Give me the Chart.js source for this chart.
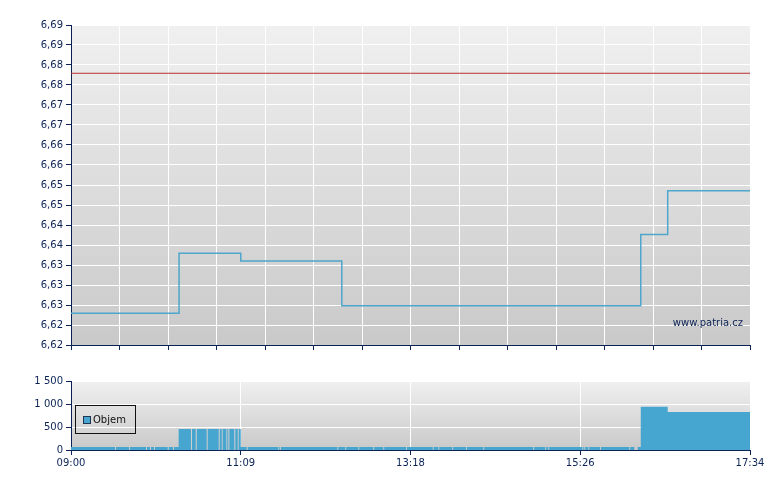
<!DOCTYPE html>
<html>
<head>
<meta charset="utf-8">
<script src="https://cdn.jsdelivr.net/npm/chart.js@4/dist/chart.umd.min.js"></script>
<style>
  html, body { margin: 0; padding: 0; background: #fff; }
  #wrap { position: relative; width: 780px; height: 490px; overflow: hidden; }
  canvas { position: absolute; left: 0; }
  #priceCanvas { top: 0; }
  #volCanvas { top: 370px; }
  #legend { position: absolute; left: 75px; top: 405px; width: 61px; height: 29px; box-sizing: border-box;
    border: 1px solid #111; font: 10px "DejaVu Sans", sans-serif; color: #111; }
  #legend .sw { position: absolute; left: 7px; top: 10px; width: 8px; height: 8px; box-sizing: border-box;
    background: #46a6cf; border: 1px solid #1d3550; }
  #legend .lb { position: absolute; left: 17px; top: 8px; line-height: 12px; }
  #mark { position: absolute; right: 37px; top: 317px; font: 10px "DejaVu Sans", sans-serif; line-height: 12px; color: #0b2354; }
</style>
</head>
<body>
<div id="wrap">
  <canvas id="priceCanvas" width="780" height="370"></canvas>
  <canvas id="volCanvas" width="780" height="120"></canvas>
  <div id="legend"><span class="sw"></span><span class="lb">Objem</span></div>
  <div id="mark">www.patria.cz</div>
</div>
<script>
// ---- data (time = minutes after 09:00) ----
const priceTimes  = [0, 81.8, 128.5, 205.0, 431.3, 451.7, 514];
const priceValues = [6.6235, 6.6373, 6.6355, 6.6252, 6.6416, 6.6517, 6.6517];
const refValue = 6.6787;

const volTimes = [0, 33.3, 34.1, 43.9, 44.7, 56.8, 57.5, 59.8, 60.6, 62.8, 63.6, 73.2, 74.0, 77.2, 78.0,
  81.5, 90.8, 91.6, 94.4, 95.2, 102.7, 103.5, 111.8, 112.6, 114.1, 114.8, 117.6, 118.3, 119.1, 119.9, 123.6, 124.4, 126.2, 126.9,
  128.5, 133.0, 133.8, 156.9, 157.6, 158.2, 158.9, 201.6, 202.3, 207.6, 208.3, 217.5, 218.2, 228.8, 229.5, 236.4, 237.1,
  253.6, 254.3, 273.8, 274.5, 278.1, 278.8, 288.6, 289.3, 299.0, 299.7, 312.1, 312.8, 349.9, 350.6, 359.0, 359.7,
  361.3, 362.0, 387.1, 387.8, 388.6, 389.3, 391.6, 392.3, 400.5, 401.2, 422.6, 423.3, 426.4, 429.0,
  431.3, 451.7, 514];
const volValues = [65, 0, 65, 0, 65, 0, 65, 0, 65, 0, 65, 0, 65, 0, 65,
  456, 0, 456, 0, 456, 0, 456, 0, 456, 0, 456, 0, 456, 0, 456, 0, 456, 0, 456,
  65, 0, 65, 0, 65, 0, 65, 0, 65, 0, 65, 0, 65, 0, 65, 0, 65,
  0, 65, 0, 65, 0, 65, 0, 65, 0, 65, 0, 65, 0, 65, 0, 65,
  0, 65, 0, 65, 0, 65, 0, 65, 0, 65, 0, 65, 0, 65,
  941, 826, 826];

const yTickLabels = ['6,62','6,62','6,63','6,63','6,63','6,64','6,64','6,65','6,65','6,66','6,66','6,67','6,67','6,68','6,68','6,69','6,69'];
const xTickLabels = ['09:00', '11:09', '13:18', '15:26', '17:34'];
const volTickLabels = ['0', '500', '1 000', '1 500'];

// ---- styling ----
const NAVY = '#0b2354';
const FONT = { family: 'DejaVu Sans', size: 10 };
const LINE = '#4ea6cc';
const BAR = '#46a6cf';

const gradientBg = {
  id: 'gradientBg',
  beforeDraw(chart) {
    const { ctx, chartArea: a } = chart;
    const g = ctx.createLinearGradient(0, a.top, 0, a.bottom);
    g.addColorStop(0, '#f0f0f0');
    g.addColorStop(1, '#c9c9c9');
    ctx.save();
    ctx.fillStyle = g;
    ctx.fillRect(a.left, a.top, a.right - a.left, a.bottom - a.top);
    ctx.restore();
  }
};

const pts = (xs, ys) => xs.map((x, i) => ({ x, y: ys[i] }));

new Chart(document.getElementById('priceCanvas'), {
  type: 'line',
  data: {
    datasets: [
      { data: [{ x: 0, y: refValue }, { x: 514, y: refValue }], borderColor: '#b83030', borderWidth: 1, pointRadius: 0, fill: false },
      { data: pts(priceTimes, priceValues), borderColor: LINE, borderWidth: 1.5, stepped: 'before', pointRadius: 0, fill: false }
    ]
  },
  options: {
    responsive: false, animation: false, devicePixelRatio: 1,
    layout: { padding: { top: 25, right: 30, bottom: 5, left: 0 } },
    plugins: { legend: { display: false }, tooltip: { enabled: false } },
    scales: {
      x: {
        type: 'linear', min: 0, max: 514,
        border: { color: NAVY, width: 1 },
        grid: { color: '#ffffff', lineWidth: 1, tickColor: NAVY, tickLength: 5 },
        ticks: { count: 15, autoSkip: false, maxRotation: 0, callback: () => '', font: FONT },
        afterFit(s) { s.height = 20; }
      },
      y: {
        type: 'linear', min: 6.6162, max: 6.6898,
        border: { color: NAVY, width: 1 },
        grid: { color: '#ffffff', lineWidth: 1, tickColor: NAVY, tickLength: 5 },
        ticks: { count: 17, autoSkip: false, padding: 3, color: NAVY, font: FONT, callback: (v, i) => yTickLabels[i] },
        afterFit(s) { s.width = 71; }
      }
    }
  },
  plugins: [gradientBg]
});

new Chart(document.getElementById('volCanvas'), {
  type: 'line',
  data: {
    datasets: [
      { label: 'Objem', data: pts(volTimes, volValues), stepped: 'before', fill: 'origin', backgroundColor: BAR,
        borderWidth: 0, borderColor: BAR, pointRadius: 0 }
    ]
  },
  options: {
    responsive: false, animation: false, devicePixelRatio: 1,
    layout: { padding: { top: 11, right: 30, bottom: 15, left: 0 } },
    plugins: { legend: { display: false }, tooltip: { enabled: false } },
    scales: {
      x: {
        type: 'linear', min: 0, max: 514,
        border: { color: NAVY, width: 1 },
        grid: { color: c => (c.index === 0 || c.index === 4) ? 'rgba(0,0,0,0)' : '#ffffff', lineWidth: 1, tickColor: NAVY, tickLength: 5 },
        ticks: { count: 5, autoSkip: false, maxRotation: 0, padding: 2, color: NAVY, font: FONT, callback: (v, i) => xTickLabels[i] },
        afterFit(s) { s.height = 25; }
      },
      y: {
        type: 'linear', min: 0, max: 1500,
        border: { color: NAVY, width: 1 },
        grid: { color: '#ffffff', lineWidth: 1, tickColor: NAVY, tickLength: 5 },
        ticks: { count: 4, autoSkip: false, padding: 3, color: NAVY, font: FONT, callback: (v, i) => volTickLabels[i] },
        afterFit(s) { s.width = 71; }
      }
    }
  },
  plugins: [gradientBg]
});
</script>
</body>
</html>
